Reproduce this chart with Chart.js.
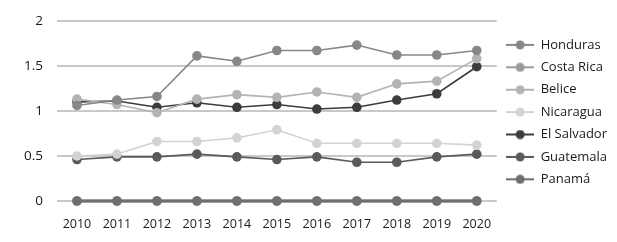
<!DOCTYPE html>
<html>
<head>
<meta charset="utf-8">
<script src="https://cdn.jsdelivr.net/npm/chart.js@4/dist/chart.umd.min.js"></script>
<style>
  html, body { margin: 0; padding: 0; background: #fff; }
  #wrap { width: 617px; height: 242px; }
</style>
</head>
<body>
<div id="wrap"><canvas id="grafica"></canvas></div>
<script>
// años del eje x
const anios = ['2010', '2011', '2012', '2013', '2014', '2015', '2016', '2017', '2018', '2019', '2020'];

// valores por país
const honduras   = [1.06, 1.12, 1.16, 1.61, 1.55, 1.67, 1.67, 1.73, 1.62, 1.62, 1.67];
const costaRica  = [0, 0, 0, 0, 0, 0, 0, 0, 0, 0, 0];
const belice     = [1.13, 1.07, 0.98, 1.13, 1.18, 1.15, 1.21, 1.15, 1.30, 1.33, 1.58];
const nicaragua  = [0.50, 0.52, 0.66, 0.66, 0.70, 0.79, 0.64, 0.64, 0.64, 0.64, 0.62];
const elSalvador = [1.10, 1.11, 1.04, 1.09, 1.04, 1.07, 1.02, 1.04, 1.12, 1.19, 1.49];
const guatemala  = [0.46, 0.49, 0.49, 0.52, 0.49, 0.46, 0.49, 0.43, 0.43, 0.49, 0.52];
const panama     = [0, 0, 0, 0, 0, 0, 0, 0, 0, 0, 0];

const paises  = ['Honduras', 'Costa Rica', 'Belice', 'Nicaragua', 'El Salvador', 'Guatemala', 'Panamá'];
const valores = [honduras, costaRica, belice, nicaragua, elSalvador, guatemala, panama];
const colores = ['#878787', '#9b9b9b', '#b3b3b3', '#d3d3d3', '#3c3c3c', '#5a5a5a', '#6e6e6e'];

// icono de leyenda: línea con punto
function iconoLeyenda(color) {
    const c = document.createElement('canvas');
    c.width = 28; c.height = 10;
    const g = c.getContext('2d');
    g.strokeStyle = color;
    g.lineWidth = 2;
    g.beginPath(); g.moveTo(0, 5); g.lineTo(28, 5); g.stroke();
    g.fillStyle = color;
    g.beginPath(); g.arc(14, 5, 4.5, 0, Math.PI * 2); g.fill();
    return c;
}
const iconos = colores.map(iconoLeyenda);

const datasets = paises.map((p, i) => ({
    label: p,
    data: valores[i],
    borderColor: colores[i],
    backgroundColor: colores[i],
    borderWidth: (p === 'Panamá' || p === 'Costa Rica') ? 3 : 1.6,
    pointRadius: 4.8,
    pointHoverRadius: 4.8,
    pointBorderWidth: 0,
    tension: 0,
    clip: false,
    // Costa Rica queda debajo de Panamá en la línea del cero
    order: p === 'Costa Rica' ? 9 : i
}));

const ctx = document.getElementById('grafica').getContext('2d');
new Chart(ctx, {
    type: 'line',
    data: { labels: anios, datasets: datasets },
    options: {
        responsive: true,
        maintainAspectRatio: false,
        animation: false,
        layout: { padding: { left: 10, right: 0, top: 4, bottom: -6 } },
        scales: {
            x: {
                offset: true,
                grid: { display: false, drawTicks: false },
                border: { display: false },
                ticks: { color: '#1a1a1a', font: { family: 'Open Sans', size: 12.5 }, padding: 16, maxRotation: 0 }
            },
            y: {
                min: 0,
                max: 2,
                grid: { color: '#c8c8c8', lineWidth: 2, drawTicks: false },
                border: { display: false },
                ticks: {
                    stepSize: 0.5,
                    color: '#1a1a1a',
                    font: { family: 'Open Sans', size: 13.5, lineHeight: 1 },
                    padding: 14,
                    callback: v => String(v)
                }
            }
        },
        plugins: {
            tooltip: { enabled: false },
            legend: {
                position: 'right',
                align: 'start',
                title: { display: true, text: '', font: { size: 10 }, padding: { top: 3, bottom: 10 } },
                labels: {
                    usePointStyle: true,
                    pointStyleWidth: 28,
                    boxHeight: 10,
                    padding: 9.4,
                    color: '#1a1a1a',
                    font: { family: 'Open Sans', size: 13 },
                    generateLabels: function (chart) {
                        return chart.data.datasets.map((d, i) => ({
                            text: d.label,
                            pointStyle: iconos[i],
                            fillStyle: d.borderColor,
                            strokeStyle: d.borderColor,
                            lineWidth: 0,
                            fontColor: '#1a1a1a',
                            hidden: false,
                            datasetIndex: i
                        }));
                    }
                }
            }
        }
    }
});
</script>
</body>
</html>
